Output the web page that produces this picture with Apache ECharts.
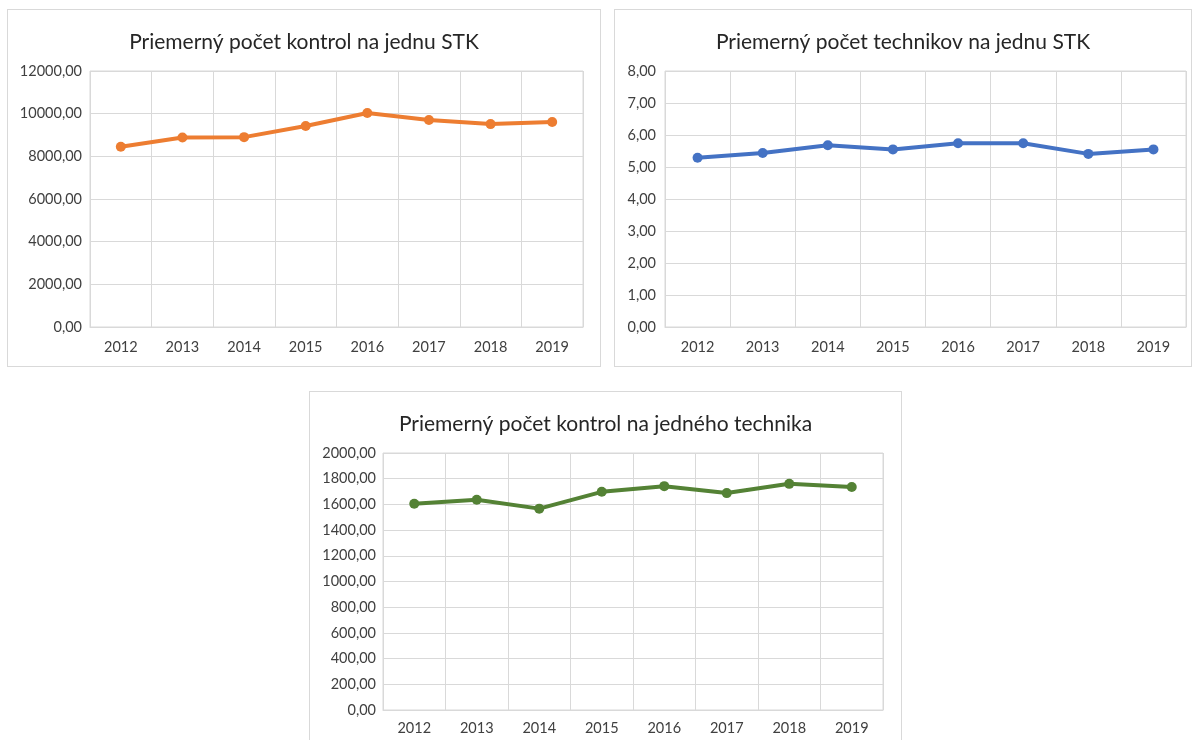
<!DOCTYPE html>
<html>
<head>
<meta charset="utf-8">
<script src="https://cdn.jsdelivr.net/npm/echarts@6/dist/echarts.min.js"></script>
<style>
  body { margin:0; background:#fff; width:1192px; height:740px; overflow:hidden; position:relative; }
  .panel { position:absolute; border:1px solid #D9D9D9; box-sizing:border-box; background:#fff; }
  .panel div.chart { width:100%; height:100%; }
</style>
</head>
<body>
<div class="panel" style="left:7px;top:9px;width:594px;height:358px;"><div class="chart" id="stk"></div></div>
<div class="panel" style="left:614px;top:9px;width:578px;height:358px;"><div class="chart" id="technici"></div></div>
<div class="panel" style="left:309px;top:391px;width:593px;height:380px;"><div class="chart" id="naTechnika"></div></div>
<script>
// roky a hodnoty odčítané z grafu
var years = ['2012','2013','2014','2015','2016','2017','2018','2019'];
var kontrolNaStk = [8450, 8880, 8900, 9420, 10030, 9700, 9510, 9610];
var technikovNaStk = [5.29, 5.44, 5.68, 5.55, 5.74, 5.74, 5.41, 5.55];
var kontrolNaTechnika = [1605, 1636, 1567, 1698, 1742, 1688, 1760, 1735];

var font = 'Lato, Calibri, "Open Sans", sans-serif';

function fmt(v){
  return v.toFixed(2).replace('.', ',');
}

function lineChart(id, title, data, color, max, interval, grid, xMargin){
  var myChart = echarts.init(document.getElementById(id));
  var option = {
    animation: false,
    title: {
      text: title,
      left: 'center',
      top: 17,
      textStyle: { fontFamily: font, fontSize: 21, fontWeight: 'normal', color: '#262626' }
    },
    grid: {
      left: grid.left, top: grid.top, right: grid.right, height: grid.height,
      show: true, borderColor: '#D9D9D9', borderWidth: 1
    },
    xAxis: {
      type: 'category',
      data: years,
      boundaryGap: true,
      axisLine: { lineStyle: { color: '#D9D9D9' } },
      axisTick: { show: false },
      splitLine: { show: true, lineStyle: { color: '#D9D9D9' } },
      axisLabel: { color: '#404040', fontFamily: font, fontSize: 14.5, margin: xMargin }
    },
    yAxis: {
      type: 'value',
      min: 0,
      max: max,
      interval: interval,
      axisLine: { show: false },
      axisTick: { show: false },
      splitLine: { lineStyle: { color: '#D9D9D9' } },
      axisLabel: { color: '#404040', fontFamily: font, fontSize: 14.5, margin: grid.labelGap, formatter: fmt }
    },
    series: [{
      type: 'line',
      data: data,
      symbol: 'circle',
      symbolSize: 10,
      lineStyle: { color: color, width: 4 },
      itemStyle: { color: color }
    }]
  };
  myChart.setOption(option);
}

lineChart('stk', 'Priemerný počet kontrol na jednu STK', kontrolNaStk, '#ED7D31', 12000, 2000,
  { left: 82, top: 61, right: 17, height: 256, labelGap: 8 }, 13);
lineChart('technici', 'Priemerný počet technikov na jednu STK', technikovNaStk, '#4472C4', 8, 1,
  { left: 50, top: 61, right: 5, height: 256, labelGap: 9 }, 13);
lineChart('naTechnika', 'Priemerný počet kontrol na jedného technika', kontrolNaTechnika, '#548235', 2000, 200,
  { left: 73, top: 61, right: 18, height: 257, labelGap: 7 }, 11);
</script>
</body>
</html>
